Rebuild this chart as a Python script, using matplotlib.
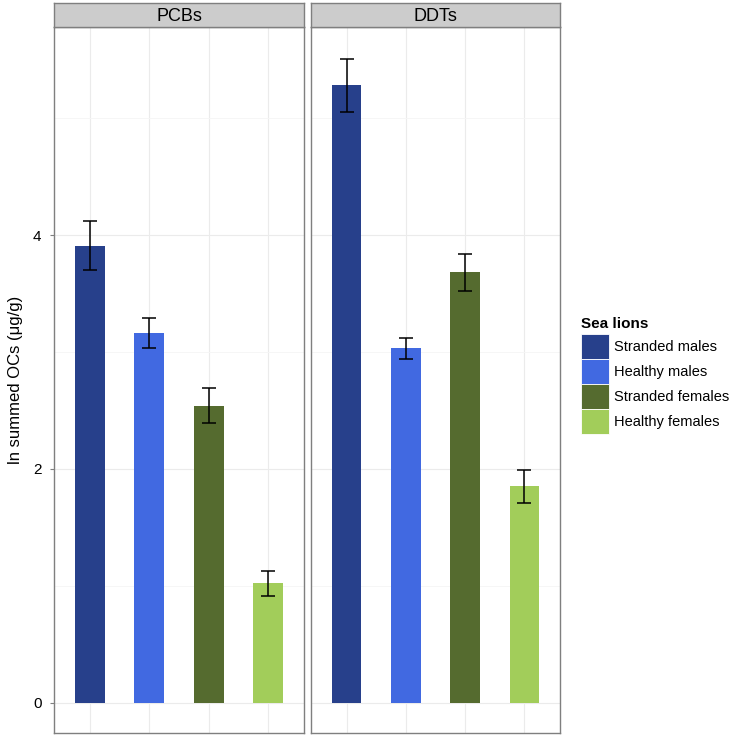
import matplotlib.pyplot as plt
import numpy as np
from matplotlib.patches import Patch

plt.rcParams['font.family'] = ['Liberation Sans', 'DejaVu Sans']

# data
panels = ["PCBs", "DDTs"]
groups = ["Stranded males", "Healthy males", "Stranded females", "Healthy females"]
colors = ["#27408B", "#4169E1", "#556B2F", "#A2CD5A"]
pcb_mean = [3.91, 3.16, 2.54, 1.02]
pcb_se = [0.21, 0.13, 0.15, 0.11]
ddt_mean = [5.28, 3.03, 3.68, 1.85]
ddt_se = [0.23, 0.09, 0.16, 0.14]
yticks = [0, 2, 4]

means = [pcb_mean, ddt_mean]
errs = [pcb_se, ddt_se]

fig = plt.figure(figsize=(7.3, 7.38), dpi=100)
W, H = 730.0, 738.0
lefts = [54, 311]
rights = [304, 560]
top, bottom = 27, 733
strip_top = 3

xx = np.arange(1, len(groups) + 1)
for k in range(2):
    ax = fig.add_axes([lefts[k] / W, 1 - bottom / H, (rights[k] - lefts[k]) / W, (bottom - top) / H])
    ax.set_axisbelow(True)
    ax.bar(xx, means[k], width=0.5, color=colors, zorder=2)
    ax.errorbar(xx, means[k], yerr=errs[k], fmt='none', ecolor='black', elinewidth=1.1,
                capsize=4.7, capthick=1.1, zorder=3)
    ax.set_xlim(0.4, 4.6)
    ax.set_ylim(-0.26, 5.78)
    ax.set_yticks(yticks)
    ax.set_yticks([1, 3, 5], minor=True)
    ax.set_xticks(xx)
    ax.tick_params(axis='x', length=0, labelbottom=False)
    ax.tick_params(axis='y', which='minor', length=0)
    ax.grid(True, which='major', color='#EBEBEB', linewidth=0.8)
    ax.grid(True, which='minor', axis='y', color='#F5F5F5', linewidth=0.6)
    for s in ax.spines.values():
        s.set_color('#7F7F7F')
        s.set_linewidth(1.0)
    if k == 0:
        ax.set_yticklabels([str(t) for t in yticks])
        ax.tick_params(axis='y', length=3, color='#7F7F7F', labelsize=11, pad=6)
        ax.set_ylabel("ln summed OCs (μg/g)", fontsize=12, labelpad=7)
    else:
        ax.tick_params(axis='y', length=0, labelleft=False)
    # strip
    sax = fig.add_axes([lefts[k] / W, 1 - top / H, (rights[k] - lefts[k]) / W, (top - strip_top) / H])
    sax.set_facecolor('#CCCCCC')
    sax.set_xticks([])
    sax.set_yticks([])
    for s in sax.spines.values():
        s.set_color('#7F7F7F')
        s.set_linewidth(1.0)
    sax.text(0.5, 0.45, panels[k], ha='center', va='center', fontsize=13, transform=sax.transAxes)

handles = [Patch(facecolor=c, edgecolor='white', linewidth=0.6) for c in colors]
leg = fig.legend(handles, groups, loc='upper left', bbox_to_anchor=(581 / W, 1 - 317 / H),
                 frameon=False, title="Sea lions", fontsize=10.5, title_fontsize=11,
                 handlelength=1.95, handleheight=2.26, labelspacing=0.0, borderpad=0,
                 handletextpad=0.3, borderaxespad=0)
leg.get_title().set_fontweight('bold')
leg._legend_box.align = "left"
leg._legend_box.sep = 2

fig.savefig("out.png", dpi=100)
